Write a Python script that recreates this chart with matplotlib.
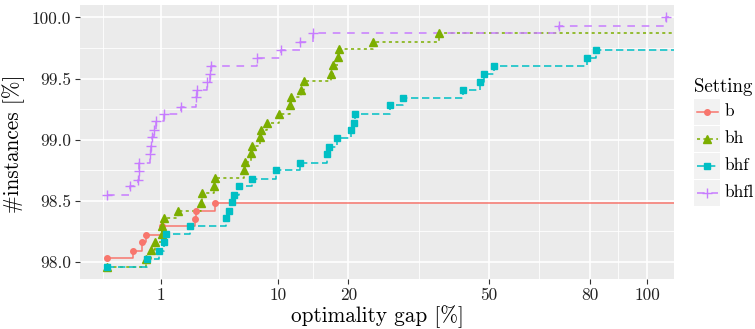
import numpy as np
import matplotlib.pyplot as plt
from matplotlib.patches import Rectangle
from matplotlib.lines import Line2D

plt.rcParams['font.family'] = 'cmr10'
plt.rcParams['mathtext.fontset'] = 'cm'
plt.rcParams['axes.formatter.use_mathtext'] = True

# optimality gap [%] where each step happens, and share of instances [%]
b_gap = [0, 0.23, 0.42, 0.52, 1.03, 2.66, 2.74, 4.03]
b_pct = [98.03, 98.09, 98.16, 98.22, 98.29, 98.35, 98.42, 98.48]

bh_gap = [0, 0.53, 0.66, 0.79, 1.03, 1.05, 1.12, 1.73, 3.06, 3.07, 3.95, 3.99,
          6.45, 6.50, 7.13, 7.20, 8.00, 8.16, 8.83, 10.15, 11.48, 11.65, 12.9,
          13.3, 17.26, 17.52, 18.35, 18.46, 24.2, 37.9]
bh_pct = [97.96, 98.02, 98.10, 98.16, 98.23, 98.29, 98.36, 98.42, 98.48, 98.56,
          98.62, 98.69, 98.75, 98.82, 98.89, 98.95, 99.02, 99.08, 99.14, 99.21,
          99.28, 99.35, 99.41, 99.48, 99.54, 99.61, 99.68, 99.74, 99.80, 99.87]

bhf_gap = [0, 0.56, 0.91, 1.13, 1.20, 2.34, 4.89, 5.08, 5.39, 5.57, 6.01, 7.25,
           9.74, 12.77, 16.54, 16.91, 18.15, 20.43, 20.87, 21.04, 27.41, 30.07,
           43.42, 47.67, 48.71, 51.33, 79.15, 82.15]
bhf_pct = [97.96, 98.02, 98.09, 98.16, 98.23, 98.29, 98.36, 98.42, 98.49, 98.55,
           98.62, 98.68, 98.75, 98.81, 98.88, 98.94, 99.01, 99.08, 99.14, 99.21,
           99.28, 99.34, 99.41, 99.47, 99.54, 99.60, 99.67, 99.73]

bhfl_gap = [0, 0.18, 0.32, 0.35, 0.36, 0.62, 0.67, 0.69, 0.76, 0.81, 1.12, 1.87,
            2.69, 2.77, 3.42, 3.61, 3.72, 7.71, 10.33, 12.81, 14.5, 70.2, 107.2]
bhfl_pct = [98.55, 98.62, 98.67, 98.74, 98.81, 98.88, 98.95, 99.02, 99.08, 99.15,
            99.21, 99.27, 99.35, 99.41, 99.47, 99.54, 99.60, 99.67, 99.73, 99.80,
            99.87, 99.93, 100.0]

settings = ['b', 'bh', 'bhf', 'bhfl']
gaps = [b_gap, bh_gap, bhf_gap, bhfl_gap]
pcts = [b_pct, bh_pct, bhf_pct, bhfl_pct]
colors = ['#F8766D', '#7CAE00', '#00BFC4', '#C77CFF']
markers = ['o', '^', 's', '+']
msizes = [4.0, 5.4, 5.0, 7.0]
dashes = [None, (2.0, 2.2), (4.8, 2.4), (5.0, 4.4)]

x_breaks = [1, 10, 20, 50, 80, 100]
y_breaks = [98.0, 98.5, 99.0, 99.5, 100.0]


def fwd(x):
    x = np.asarray(x, dtype=float)
    return np.sign(x) * np.sqrt(np.abs(x))


def inv(t):
    t = np.asarray(t, dtype=float)
    return np.sign(t) * t ** 2


fig = plt.figure(figsize=(7.55, 3.29), dpi=100)
ax = fig.add_axes([80 / 755, 1 - 279.3 / 329, 594 / 755, 274.3 / 329])
ax.set_facecolor('#EBEBEB')
for s in ax.spines.values():
    s.set_visible(False)
ax.set_xscale('function', functions=(fwd, inv))

# limits like coord_cartesian(xlim = c(0, 100)) with 5 % expansion
t_lo, t_hi = fwd(0), fwd(100)
pad = 0.05 * (t_hi - t_lo)
xlim = (float(inv(t_lo - pad)), float(inv(t_hi + pad)))
all_y = np.concatenate([np.array(p) for p in pcts])
ypad = 0.05 * (all_y.max() - all_y.min())
ylim = (all_y.min() - ypad, all_y.max() + ypad)

# grid (ggplot style minor breaks at midpoints in transformed space)
tb = fwd(x_breaks)
bd = tb[1] - tb[0]
ext = np.concatenate([[tb[0] - bd], tb, [tb[-1] + bd]])
x_minor = inv((ext[:-1] + ext[1:]) / 2)
x_minor = [v for v in x_minor if xlim[0] <= v <= xlim[1]]
y_minor = [v + 0.25 for v in [97.5] + y_breaks]
y_minor = [v for v in y_minor if ylim[0] <= v <= ylim[1]]
for v in x_minor:
    ax.axvline(v, color='white', lw=0.6, zorder=0.5)
for v in y_minor:
    ax.axhline(v, color='white', lw=0.6, zorder=0.5)
for v in x_breaks:
    ax.axvline(v, color='white', lw=1.2, zorder=0.6)
for v in y_breaks:
    ax.axhline(v, color='white', lw=1.2, zorder=0.6)

# step lines, extended to the right border of the panel
for g, p, c, d in zip(gaps, pcts, colors, dashes):
    xs = list(g) + [max(xlim[1], g[-1])]
    ys = list(p) + [p[-1]]
    ln, = ax.plot(xs, ys, drawstyle='steps-post', color=c, lw=1.1, zorder=2)
    if d is not None:
        ln.set_dashes(d)
for g, p, c, m, ms in zip(gaps, pcts, colors, markers, msizes):
    ax.plot(g, p, ls='none', marker=m, ms=ms, color=c, mew=1.0, zorder=3)

ax.set_xlim(xlim)
ax.set_ylim(ylim)
ax.set_xticks(x_breaks)
ax.set_xticklabels([str(v) for v in x_breaks])
ax.set_xticks([], minor=True)
ax.set_yticks(y_breaks)
ax.set_yticklabels([f'{v:.1f}' for v in y_breaks])
ax.tick_params(axis='both', length=3.3, width=0.8, color='#333333',
               labelcolor='#222222', labelsize=12.5)
ax.tick_params(axis='x', pad=3)
ax.tick_params(axis='y', pad=3)

fig.text(ax.get_position().x0 + ax.get_position().width / 2, 7 / 329,
         'optimality gap [%]', ha='center', va='baseline', fontsize=15.3)
fig.text(14 / 755, 1 - 144 / 329, '#instances [%]', rotation=90,
         ha='center', va='center', fontsize=15.3)

# legend drawn in pixel coordinates on an overlay axes
lg = fig.add_axes([0, 0, 1, 1])
lg.set_xlim(0, 755)
lg.set_ylim(329, 0)
lg.axis('off')
lg.text(694, 91.5, 'Setting', ha='left', va='baseline', fontsize=13.6)
for i, (name, c, m, ms, d) in enumerate(zip(settings, colors, markers, msizes, dashes)):
    top = 99 + 27 * i
    lg.add_patch(Rectangle((694.3, top), 25.7, 25.5, facecolor='#F2F2F2',
                           edgecolor='none'))
    cy = top + 12.75
    ln = Line2D([696.5, 717.8], [cy, cy], color=c, lw=1.1)
    if d is not None:
        ln.set_dashes(d)
    lg.add_line(ln)
    lg.add_line(Line2D([707.15], [cy], ls='none', marker=m, ms=ms, color=c, mew=1.0))
    lg.text(725, cy, name, ha='left', va='center', fontsize=12.5)

fig.savefig('out.png', dpi=100)
